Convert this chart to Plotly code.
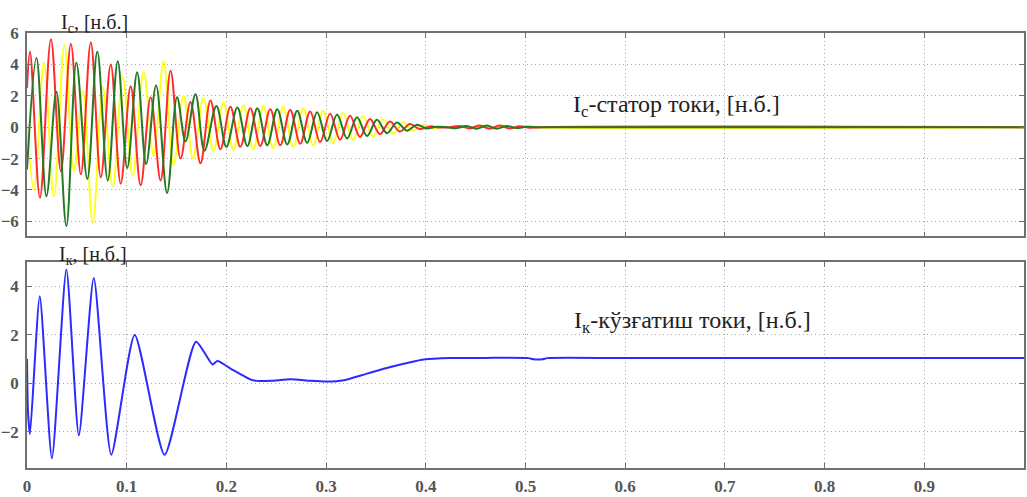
import plotly.graph_objects as go

# ---- Stator currents (extrema) ----
t_red = [0.0, 0.003, 0.013, 0.024, 0.034, 0.044, 0.054, 0.064, 0.074, 0.084, 0.094, 0.104, 0.114,
         0.124, 0.134, 0.144, 0.154, 0.164, 0.174, 0.184, 0.194, 0.204, 0.214, 0.224, 0.234, 0.244,
         0.254, 0.264, 0.274, 0.284, 0.294, 0.304, 0.314, 0.324, 0.334, 0.344, 0.354, 0.364, 0.374,
         0.384, 0.394, 0.404, 0.414, 0.424, 0.434, 0.444, 0.454, 0.464, 0.474, 0.484, 0.494, 0.504,
         0.514, 1.0]
v_red = [2.5, 4.8, -4.5, 5.6, -2.8, 5.3, -3.0, 5.4, -3.2, 4.0, -3.6, 2.6, -3.7,
         1.9, -3.4, 3.6, -2.0, 1.6, -2.3, 1.7, -1.4, 1.3, -1.25, 1.2, -1.2, 1.15,
         -1.15, 1.1, -1.05, 1.0, -0.95, 0.85, -0.8, 0.72, -0.62, 0.52, -0.44, 0.36, -0.28,
         0.2, -0.12, 0.05, -0.02, 0.0, 0.08, -0.08, 0.1, -0.1, 0.1, -0.08, 0.06, -0.04,
         0.0, 0.0]

t_green = [0.0, 0.0095, 0.0195, 0.0295, 0.0395, 0.0495, 0.0605, 0.0705, 0.081, 0.091, 0.1005,
           0.1105, 0.1195, 0.1295, 0.1405, 0.1505, 0.159, 0.169, 0.178, 0.19, 0.2, 0.211, 0.221,
           0.231, 0.241, 0.251, 0.261, 0.271, 0.281, 0.291, 0.301, 0.311, 0.321, 0.331, 0.341,
           0.351, 0.361, 0.371, 0.381, 0.391, 0.401, 0.411, 0.421, 0.431, 0.441, 0.451, 0.461,
           0.471, 0.481, 0.491, 0.501, 0.511, 1.0]
v_green = [-2.7, 4.4, -4.4, 2.25, -6.3, 4.1, -3.3, 4.8, -3.4, 4.2, -2.6,
           3.5, -2.35, 2.65, -4.2, 1.9, -0.9, 2.1, -1.5, 1.35, -1.25, 1.25, -1.2,
           1.2, -1.15, 1.15, -1.1, 1.05, -1.0, 0.95, -0.88, 0.8, -0.72, 0.64, -0.56,
           0.47, -0.38, 0.3, -0.22, 0.15, -0.08, 0.03, 0.0, -0.06, 0.08, -0.1, 0.1,
           -0.1, 0.08, -0.06, 0.03, 0.0, 0.0]

t_yellow = [0.0, 0.007, 0.017, 0.027, 0.0375, 0.047, 0.056, 0.066, 0.076, 0.086, 0.096, 0.106,
            0.117, 0.127, 0.137, 0.147, 0.157, 0.1665, 0.177, 0.187, 0.197, 0.207, 0.217, 0.227,
            0.237, 0.247, 0.257, 0.267, 0.277, 0.287, 0.297, 0.307, 0.317, 0.327, 0.337, 0.347,
            0.357, 0.367, 0.377, 0.387, 0.397, 0.407, 0.417, 0.427, 0.437, 0.447, 0.457, 0.467,
            0.477, 0.487, 0.497, 0.507, 1.0]
v_yellow = [0.2, -4.0, 4.1, -4.4, 5.25, -2.8, 2.3, -6.1, 2.55, -3.8, 3.2, -3.1,
            3.5, -1.8, 4.2, -2.4, 2.0, -2.0, 1.85, -1.5, 1.55, -1.45, 1.4, -1.4,
            1.35, -1.35, 1.3, -1.25, 1.2, -1.15, 1.05, -1.0, 0.9, -0.8, 0.7, -0.6,
            0.5, -0.4, 0.32, -0.22, 0.13, -0.05, 0.02, 0.0, 0.08, -0.08, 0.1, -0.1,
            0.1, -0.08, 0.05, 0.0, 0.0]

# ---- Excitation current ----
t_blue = [0.0, 0.001, 0.003, 0.0128, 0.025, 0.0395, 0.052, 0.067, 0.0845, 0.108, 0.138,
          0.1695, 0.186, 0.191, 0.2045, 0.2245, 0.231, 0.2445, 0.2645, 0.2845, 0.301, 0.318,
          0.341, 0.3645, 0.3845, 0.398, 0.4245, 0.46, 0.503, 0.508, 0.517, 0.522, 0.6, 0.8, 1.0]
v_blue = [1.0, -1.2, -2.1, 3.6, -3.1, 4.7, -2.15, 4.35, -2.95, 2.0, -2.95,
          1.72, 0.78, 0.92, 0.6, 0.15, 0.1, 0.1, 0.17, 0.1, 0.07, 0.13,
          0.4, 0.67, 0.87, 0.98, 1.04, 1.05, 1.04, 0.99, 0.99, 1.04, 1.04, 1.04, 1.04]

x_ticks = [0, 0.1, 0.2, 0.3, 0.4, 0.5, 0.6, 0.7, 0.8, 0.9, 1]
x_labels = ["0", "0.1", "0.2", "0.3", "0.4", "0.5", "0.6", "0.7", "0.8", "0.9", "1"]
y1_ticks = [-6, -4, -2, 0, 2, 4, 6]
y2_ticks = [-2, 0, 2, 4]

title_top = "I<sub>с</sub>, [н.б.]"
title_bot = "I<sub>к</sub>, [н.б.]"
label_top = "I<sub>с</sub>-статор токи, [н.б.]"
label_bot = "I<sub>к</sub>-кўзғатиш токи, [н.б.]"

SERIF = "Liberation Serif"

fig = go.Figure()
for t, v, c in [(t_yellow, v_yellow, "#ffff1a"), (t_red, v_red, "#ff2a2a"), (t_green, v_green, "#237a23")]:
    fig.add_trace(go.Scatter(x=t, y=v, mode="lines", line=dict(color=c, width=2, shape="spline", smoothing=1.0),
                             xaxis="x", yaxis="y", showlegend=False, hoverinfo="skip"))
fig.add_trace(go.Scatter(x=t_blue, y=v_blue, mode="lines", line=dict(color="#2b2bff", width=2, shape="spline", smoothing=0.6),
                         xaxis="x2", yaxis="y2", showlegend=False, hoverinfo="skip"))

tickfont = dict(family=SERIF, size=17, color="#555555", weight="bold")
common_axis = dict(showline=True, linecolor="#707070", linewidth=1.5, mirror="allticks",
                   ticks="inside", ticklen=5, tickcolor="#707070", tickwidth=1.2,
                   showgrid=True, gridcolor="#a8a8a8", griddash="1px,3px", gridwidth=1,
                   zeroline=False, tickfont=tickfont)

ph = 443.0
top_dom = [(476 - 240) / ph, 1.0]
bot_dom = [0.0, (476 - 266) / ph]

fig.update_layout(
    width=1027, height=497,
    margin=dict(l=26, r=1, t=33, b=21),
    paper_bgcolor="white", plot_bgcolor="white",
    xaxis=dict(range=[0, 1], tickvals=x_ticks, showticklabels=False, anchor="y", **common_axis),
    yaxis=dict(range=[-6.95, 6], domain=top_dom, tickvals=y1_ticks, anchor="x", ticklabelstandoff=3, **common_axis),
    xaxis2=dict(range=[0, 1], tickvals=x_ticks, ticktext=x_labels, anchor="y2", ticklabelstandoff=2, **common_axis),
    yaxis2=dict(range=[-3.5, 5.02], domain=bot_dom, tickvals=y2_ticks, anchor="x2", ticklabelstandoff=3, **common_axis),
    annotations=[
        dict(text=title_top, x=0.068, y=(476 - 23) / ph, xref="paper", yref="paper", showarrow=False,
             xanchor="center", yanchor="middle", font=dict(family=SERIF, size=20, color="#222222")),
        dict(text=title_bot, x=0.066, y=(476 - 260) / ph, xref="paper", yref="paper", showarrow=False,
             xanchor="center", yanchor="middle", font=dict(family=SERIF, size=20, color="#222222")),
        dict(text=label_top, x=0.651, y=1.35, xref="x", yref="y", showarrow=False,
             xanchor="center", yanchor="middle", font=dict(family=SERIF, size=24, color="#222222")),
        dict(text=label_bot, x=0.667, y=2.55, xref="x2", yref="y2", showarrow=False,
             xanchor="center", yanchor="middle", font=dict(family=SERIF, size=24, color="#222222")),
    ],
)

fig.write_html("out.html")
